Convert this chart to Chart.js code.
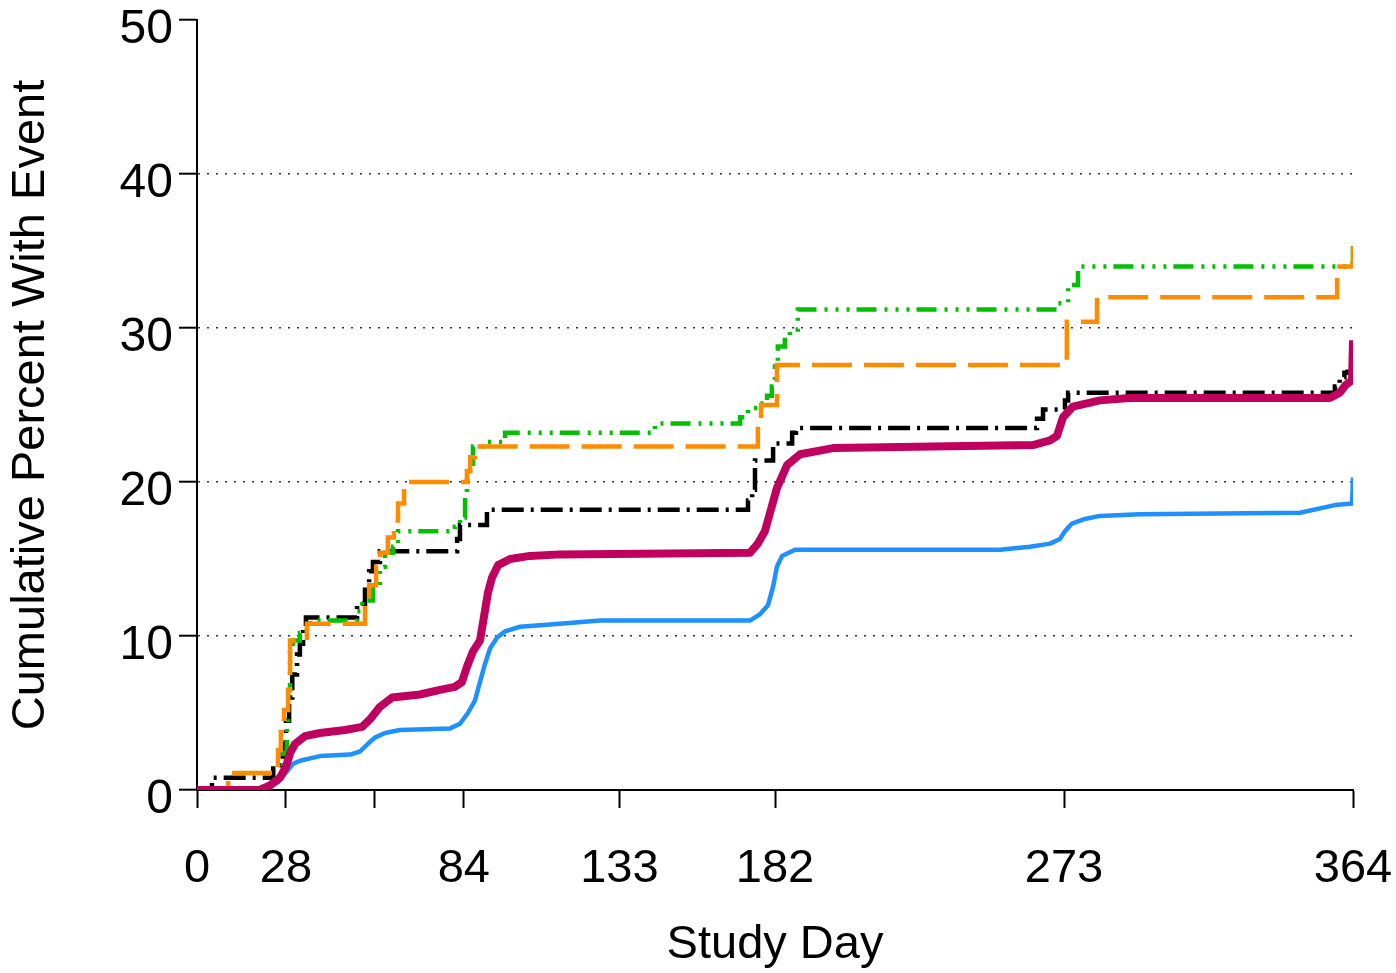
<!DOCTYPE html>
<html>
<head>
<meta charset="utf-8">
<script src="https://cdn.jsdelivr.net/npm/chart.js@4.4.1/dist/chart.umd.min.js"></script>
<style>
  html, body { margin: 0; padding: 0; background: #ffffff; }
  #wrap { width: 1396px; height: 973px; }
</style>
</head>
<body>
<div id="wrap"><canvas id="c" width="1396" height="973"></canvas></div>
<script>
// ---- Data ----
const xTickValues = [0, 28, 56, 84, 133, 182, 273, 364];
const xTickLabels = ['0', '28', '', '84', '133', '182', '273', '364'];
const yTickValues = [0, 10, 20, 30, 40, 50];

const xTitle = 'Study Day';
const yTitle = 'Cumulative Percent With Event';

// Magenta (thick solid)
const magentaDays = [0, 19.8, 23, 26.1, 28, 29.3, 30.9, 34, 38.7, 46.6, 52, 54.5, 57.6, 61.4, 70.2, 76.5, 81.2, 83.4, 85, 86.9, 89.1, 90.4, 91.6, 92.9, 94.8, 98.6, 104.8, 114.3, 174.1, 176.6, 178.8, 180.7, 182.6, 185.8, 189.9, 200.3, 263.2, 268.6, 270.8, 272.7, 275.8, 284.3, 293.8, 356.7, 359.8, 361.7, 363.7, 364];
const magentaVals = [0, 0, 0.3, 0.8, 1.5, 2.4, 3.0, 3.5, 3.7, 3.9, 4.1, 4.6, 5.4, 6.0, 6.2, 6.5, 6.7, 7.0, 8.0, 9.0, 9.7, 11.3, 12.8, 13.8, 14.6, 15.0, 15.2, 15.3, 15.4, 16.0, 16.8, 18.2, 19.6, 21.1, 21.8, 22.2, 22.4, 22.7, 23.0, 24.2, 24.9, 25.3, 25.45, 25.45, 25.8, 26.3, 26.6, 29.2];

// Blue (solid)
const blueDays = [0, 19.8, 23, 25.5, 27.1, 28.7, 30.2, 32.4, 38.7, 48.2, 51.3, 53.8, 56, 59.2, 63.9, 79.7, 82.8, 85.3, 87.5, 89.1, 90.7, 92.3, 94.5, 97, 101.7, 114.3, 126.9, 174.1, 177.2, 179.8, 181.4, 182.6, 184.2, 188.3, 252.8, 262.3, 268.6, 271.7, 273.3, 275.5, 279.6, 284.3, 296.9, 347.3, 358.3, 363.7, 364];
const blueVals = [0, 0, 0.2, 0.5, 0.9, 1.3, 1.7, 1.9, 2.2, 2.3, 2.5, 3.0, 3.4, 3.7, 3.9, 4.0, 4.3, 5.0, 5.8, 7.0, 8.2, 9.2, 9.9, 10.3, 10.6, 10.8, 11.0, 11.0, 11.4, 12.0, 13.2, 14.5, 15.2, 15.6, 15.6, 15.8, 16.0, 16.3, 16.8, 17.3, 17.6, 17.8, 17.9, 18.0, 18.5, 18.6, 20.3];

// Black (dash-dot)
const blackDays = [0, 4.7, 24, 27, 28, 29, 30, 31.5, 32.4, 33.4, 34.3, 50.4, 52.9, 54.2, 55.4, 57.6, 81.9, 82.8, 91.3, 173.5, 174.8, 175.7, 181.4, 187.4, 188.6, 264.5, 266.4, 273.3, 274.3, 358.3, 359.8, 361.3, 362.3];
const blackVals = [0, 0.8, 1.6, 3.0, 4.5, 6.0, 7.5, 8.8, 9.5, 10.5, 11.2, 12.1, 13.0, 14.2, 14.8, 15.5, 16.3, 17.2, 18.2, 18.8, 19.5, 21.4, 22.5, 23.2, 23.5, 24.1, 24.7, 25.3, 25.8, 26.2, 26.8, 27.1, 27.3];

// Orange (long dashes)
const orangeDays = [0, 9.8, 25.5, 26.4, 27.4, 28.7, 29.3, 34.6, 52.9, 54.2, 56.4, 57.6, 60.1, 62, 63.3, 65.2, 85, 86, 87.5, 176.6, 177.6, 182.6, 273.9, 283.4, 359, 364];
const orangeVals = [0, 1.1, 2.6, 4.0, 5.2, 6.5, 9.7, 10.8, 11.8, 13.3, 14.5, 15.4, 16.4, 17.5, 18.6, 20.0, 20.7, 21.6, 22.3, 23.6, 25.0, 27.6, 30.4, 32.0, 34.0, 35.3];

// Green (dash-dot-dot)
const greenDays = [0, 20.5, 23, 24.6, 27.1, 28.3, 28.7, 29.3, 30.2, 32.4, 34.6, 35.6, 50.4, 52, 55.4, 57.6, 59.2, 61.7, 63.3, 81.2, 82.8, 84.4, 85, 86, 86.9, 91.3, 97, 144.2, 171, 173.5, 177.3, 179.5, 181, 182, 182.9, 185.1, 186.7, 189.2, 271.1, 274.3, 277.4, 363, 364];
const greenVals = [0, 0.2, 0.5, 1.1, 2.4, 4.1, 6.5, 9.3, 9.7, 10.2, 10.6, 11.0, 11.6, 12.3, 13.2, 14.5, 15.4, 15.8, 16.8, 17.1, 17.7, 19.0, 20.1, 21.0, 22.3, 22.6, 23.2, 23.8, 24.2, 24.8, 25.1, 25.6, 26.2, 27.5, 28.8, 29.5, 29.9, 31.2, 31.6, 32.8, 34.0, 34.2, 35.5];

function pts(days, vals) { return days.map((d, i) => ({ x: d, y: vals[i] })); }

const FONT = '"Liberation Sans", Arial, sans-serif';

const ctx = document.getElementById('c').getContext('2d');
new Chart(ctx, {
  type: 'line',
  data: {
    datasets: [
      { label: 'Magenta', data: pts(magentaDays, magentaVals), borderColor: '#C0005F', borderWidth: 8, stepped: false, borderJoinStyle: 'round' },
      { label: 'Blue', data: pts(blueDays, blueVals), borderColor: '#1E90FF', borderWidth: 4.5, stepped: false, borderJoinStyle: 'round' },
      { label: 'Orange', data: pts(orangeDays, orangeVals), borderColor: '#FF8C00', borderWidth: 4.5, borderDash: [40, 12], stepped: true },
      { label: 'Green', data: pts(greenDays, greenVals), borderColor: '#00C000', borderWidth: 4.5, borderDash: [20, 8, 3, 8, 3, 8, 3, 7], stepped: true },
      { label: 'Black', data: pts(blackDays, blackVals), borderColor: '#000000', borderWidth: 4.5, borderDash: [22, 7, 3, 7], stepped: true }
    ]
  },
  options: {
    responsive: false,
    animation: false,
    devicePixelRatio: 1,
    elements: { point: { radius: 0, hoverRadius: 0 }, line: { tension: 0, fill: false, borderCapStyle: 'butt', borderJoinStyle: 'miter' } },
    layout: { padding: { top: 20, right: 43, left: 0, bottom: 0 } },
    plugins: { legend: { display: false }, tooltip: { enabled: false } },
    events: [],
    scales: {
      x: {
        type: 'linear',
        min: 0,
        max: 364,
        afterBuildTicks: (s) => { s.ticks = xTickValues.map(v => ({ value: v })); },
        afterFit: (s) => { s.height = 183; s.paddingLeft = 0; s.paddingRight = 0; },
        ticks: {
          autoSkip: false, maxRotation: 0, minRotation: 0,
          padding: 40,
          color: '#000',
          font: { family: FONT, size: 47, lineHeight: 0.9 },
          callback: (v) => { const i = xTickValues.indexOf(v); return i >= 0 ? xTickLabels[i] : ''; }
        },
        grid: { drawOnChartArea: false, drawTicks: true, tickLength: 18, tickColor: '#000', tickWidth: 2 },
        border: { display: true, color: '#000', width: 2 },
        title: { display: true, text: xTitle, color: '#000', font: { family: FONT, size: 47, lineHeight: 1.2 }, padding: { top: 0, bottom: 0 } }
      },
      y: {
        type: 'linear',
        min: 0,
        max: 50,
        afterBuildTicks: (s) => { s.ticks = yTickValues.map(v => ({ value: v })); },
        afterFit: (s) => { s.width = 197; s.paddingTop = 0; s.paddingBottom = 0; },
        ticks: {
          padding: 6,
          labelOffset: 10,
          color: '#000',
          font: { family: FONT, size: 48, lineHeight: 0.9 }
        },
        grid: {
          drawOnChartArea: true, drawTicks: true, tickLength: 18, tickColor: '#000', tickWidth: 2,
          lineWidth: 1.4,
          color: (c) => (c.tick && c.tick.value > 0 && c.tick.value < 50) ? '#333' : 'rgba(0,0,0,0)'
        },
        border: { display: true, color: '#000', width: 2, dash: [2, 7] },
        title: { display: true, text: yTitle, color: '#000', font: { family: FONT, size: 47, lineHeight: 1.2 }, padding: { top: 3, bottom: 0 } }
      }
    }
  }
});
</script>
</body>
</html>
